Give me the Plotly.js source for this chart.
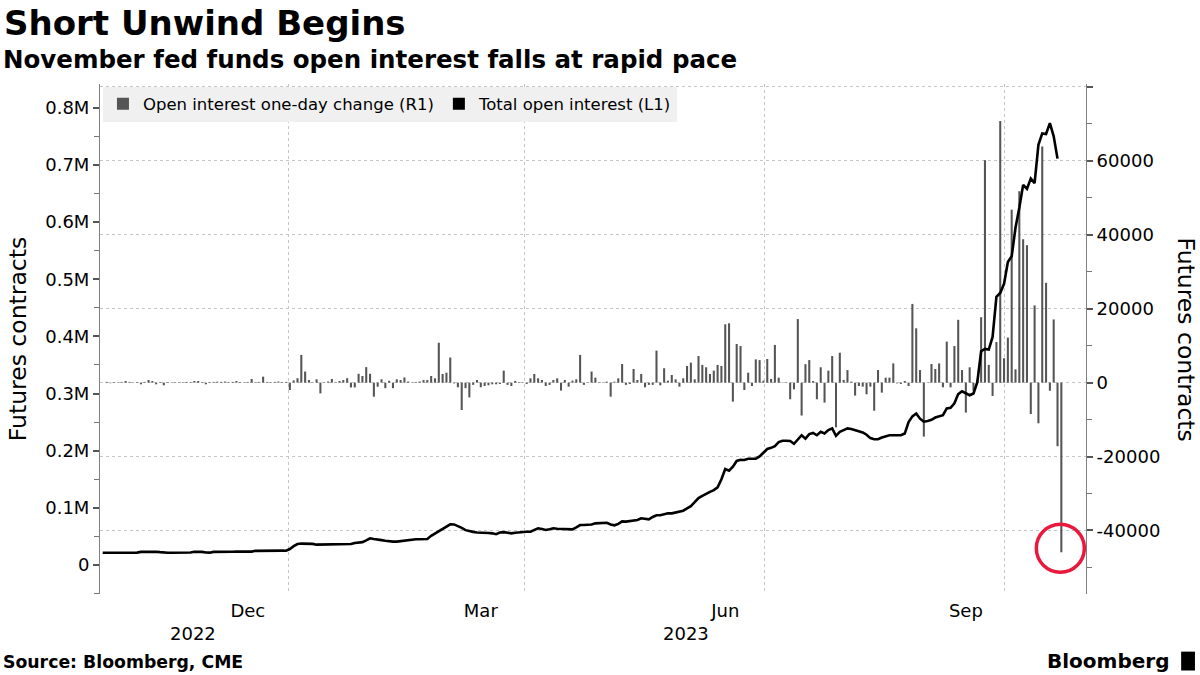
<!DOCTYPE html>
<html>
<head>
<meta charset="utf-8">
<script src="https://cdn.plot.ly/plotly-3.0.1.min.js"></script>
<style>
  html, body { margin: 0; padding: 0; background: #ffffff; }
  #chart { width: 1200px; height: 675px; }
</style>
</head>
<body>
<div id="chart"></div>
<script>
// ---------------- DATA ----------------
// Trading days (US futures calendar), Oct 21 2022 .. Oct 23 2023
const dates = [
  '2022-10-21','2022-10-24','2022-10-25','2022-10-26','2022-10-27','2022-10-28','2022-10-31',
  '2022-11-01','2022-11-02','2022-11-03','2022-11-04','2022-11-07','2022-11-08','2022-11-09','2022-11-10','2022-11-11','2022-11-14','2022-11-15','2022-11-16','2022-11-17','2022-11-18','2022-11-21','2022-11-22','2022-11-23','2022-11-25','2022-11-28','2022-11-29','2022-11-30',
  '2022-12-01','2022-12-02','2022-12-05','2022-12-06','2022-12-07','2022-12-08','2022-12-09','2022-12-12','2022-12-13','2022-12-14','2022-12-15','2022-12-16','2022-12-19','2022-12-20','2022-12-21','2022-12-22','2022-12-23','2022-12-27','2022-12-28','2022-12-29','2022-12-30',
  '2023-01-03','2023-01-04','2023-01-05','2023-01-06','2023-01-09','2023-01-10','2023-01-11','2023-01-12','2023-01-13','2023-01-17','2023-01-18','2023-01-19','2023-01-20','2023-01-23','2023-01-24','2023-01-25','2023-01-26','2023-01-27','2023-01-30','2023-01-31',
  '2023-02-01','2023-02-02','2023-02-03','2023-02-06','2023-02-07','2023-02-08','2023-02-09','2023-02-10','2023-02-13','2023-02-14','2023-02-15','2023-02-16','2023-02-17','2023-02-21','2023-02-22','2023-02-23','2023-02-24','2023-02-27','2023-02-28',
  '2023-03-01','2023-03-02','2023-03-03','2023-03-06','2023-03-07','2023-03-08','2023-03-09','2023-03-10','2023-03-13','2023-03-14','2023-03-15','2023-03-16','2023-03-17','2023-03-20','2023-03-21','2023-03-22','2023-03-23','2023-03-24','2023-03-27','2023-03-28','2023-03-29','2023-03-30','2023-03-31',
  '2023-04-03','2023-04-04','2023-04-05','2023-04-06','2023-04-10','2023-04-11','2023-04-12','2023-04-13','2023-04-14','2023-04-17','2023-04-18','2023-04-19','2023-04-20','2023-04-21','2023-04-24','2023-04-25','2023-04-26','2023-04-27','2023-04-28',
  '2023-05-01','2023-05-02','2023-05-03','2023-05-04','2023-05-05','2023-05-08','2023-05-09','2023-05-10','2023-05-11','2023-05-12','2023-05-15','2023-05-16','2023-05-17','2023-05-18','2023-05-19','2023-05-22','2023-05-23','2023-05-24','2023-05-25','2023-05-26','2023-05-30','2023-05-31',
  '2023-06-01','2023-06-02','2023-06-05','2023-06-06','2023-06-07','2023-06-08','2023-06-09','2023-06-12','2023-06-13','2023-06-14','2023-06-15','2023-06-16','2023-06-20','2023-06-21','2023-06-22','2023-06-23','2023-06-26','2023-06-27','2023-06-28','2023-06-29','2023-06-30',
  '2023-07-03','2023-07-05','2023-07-06','2023-07-07','2023-07-10','2023-07-11','2023-07-12','2023-07-13','2023-07-14','2023-07-17','2023-07-18','2023-07-19','2023-07-20','2023-07-21','2023-07-24','2023-07-25','2023-07-26','2023-07-27','2023-07-28','2023-07-31',
  '2023-08-01','2023-08-02','2023-08-03','2023-08-04','2023-08-07','2023-08-08','2023-08-09','2023-08-10','2023-08-11','2023-08-14','2023-08-15','2023-08-16','2023-08-17','2023-08-18','2023-08-21','2023-08-22','2023-08-23','2023-08-24','2023-08-25','2023-08-28','2023-08-29','2023-08-30','2023-08-31',
  '2023-09-01','2023-09-05','2023-09-06','2023-09-07','2023-09-08','2023-09-11','2023-09-12','2023-09-13','2023-09-14','2023-09-15','2023-09-18','2023-09-19','2023-09-20','2023-09-21','2023-09-22','2023-09-25','2023-09-26','2023-09-27','2023-09-28','2023-09-29',
  '2023-10-02','2023-10-03','2023-10-04','2023-10-05','2023-10-06','2023-10-09','2023-10-10','2023-10-11','2023-10-12','2023-10-13','2023-10-16','2023-10-17','2023-10-18','2023-10-19','2023-10-20','2023-10-23'
];

// Total open interest (left axis, contracts)
const totalOpenInterest = [
  21500,21500,21600,21500,21600,21700,21600,
  21500,21600,21700,23000,23300,23300,23400,23300,22500,21600,21500,21500,21600,21500,21600,21500,22000,23300,23300,23000,21800,
  21600,23000,23300,23300,23400,23300,23300,23400,23300,23300,23400,23500,24800,25000,25000,25000,25100,25000,25000,25100,25000,
  28000,33000,36700,37500,37500,37500,37000,35600,35600,35600,35600,35800,36700,36700,36700,36700,36800,38600,39000,40000,
  43000,46700,45500,44000,43500,42500,41500,41000,41000,42000,43000,44000,44500,45000,45000,45000,45500,51000,55000,
  59000,63000,68000,71200,71000,68500,65000,61000,59000,58000,57000,57000,56500,56000,55400,54000,57000,57500,56500,55400,56500,57500,58300,
  58300,58300,61000,64200,63000,61200,62500,64200,63500,63000,62500,62400,62400,66000,70000,70000,70000,71000,72900,
  73500,74000,74000,71000,69500,72000,76400,76000,77000,78700,78700,81700,81000,80000,84000,87000,87000,88500,90400,90400,92000,94500,
  95000,99000,103000,110000,117000,121000,125000,128000,131000,136000,150000,168000,165000,172000,182000,184000,183700,186000,186000,186000,190000,
  196000,203000,205000,208000,215000,217500,217500,217000,212000,220000,227000,221000,229000,231000,227000,233000,230000,236000,239000,226000,
  233000,236000,239000,238000,236000,235000,232000,228000,222000,220000,220000,223000,225000,227000,227000,227000,227000,230000,250000,260000,265000,256000,250700,
  252000,254000,258000,260000,262000,274000,275000,283000,299000,304000,300000,297000,300000,320000,374000,378000,377000,399000,469000,476000,
  492000,530000,540000,590000,625000,665000,658000,676000,668000,735000,755000,754000,773000,750000,711000
];

// Open interest one-day change (right axis, contracts)
const oneDayChange = [
  0,200,-150,150,100,200,450,
  200,-100,150,-450,200,720,450,-450,150,-720,150,100,150,100,150,200,150,450,450,150,-450,
  150,200,250,200,300,150,200,450,150,100,200,990,150,200,1620,200,150,200,300,150,200,
  -2000,600,1200,7500,3000,700,100,900,-2900,100,300,1000,100,450,700,1200,-1300,-1300,2400,1800,
  4200,2400,-3800,-1100,900,-1500,500,-1500,900,700,1400,300,100,200,300,700,700,1800,1170,
  10800,2350,2700,6800,-200,-1260,-7400,-1500,-4000,-600,720,-1260,-900,-720,-450,-450,-360,3250,-600,-900,450,180,100,
  -360,1170,2350,1170,720,-900,-600,720,1170,-2160,720,-1080,540,900,7500,-600,100,3000,1350,
  100,100,270,-3800,270,1170,5050,-600,-360,3700,720,2350,-1260,-600,-600,8660,-720,3900,540,2070,900,-1080,
  1170,4500,5400,900,7200,4800,4150,2350,3250,4800,4500,15800,16050,-5140,10460,9900,-2000,2700,-900,6300,6100,
  540,6400,1000,10200,1350,100,-100,-4500,-1800,17200,-8900,5000,6100,450,-4500,4150,-5400,3250,7200,-12100,
  8100,720,3400,270,-3500,-900,-1080,-3150,-1080,-7600,3400,-2700,1350,1350,5200,-200,-360,450,-900,21300,14700,3400,-14600,
  100,5050,3700,5200,-1260,11100,-1260,9900,17000,3400,-8100,4150,-2200,800,17700,60200,4800,-3600,11000,70800,
  6600,12200,46800,3600,51800,38800,37200,-8500,20900,-11000,63900,27000,-2200,17100,-17200,-45900
];

// Non-trading weekdays removed from the time axis
const holidays = ['2022-11-24','2022-12-26','2023-01-02','2023-01-16','2023-02-20','2023-04-07','2023-05-29','2023-06-19','2023-07-04','2023-09-04'];

// Axis ticks
const monthTickVals = ['2022-12-15 12:00','2023-03-16 12:00','2023-06-16 12:00','2023-09-18 12:00'];
const monthTickText = ['Dec','Mar','Jun','Sep'];
const quarterGridVals = ['2023-01-03 06:00','2023-03-31 23:00','2023-07-03 16:00','2023-10-02 15:00'];
const yearLabels = ['2022','2023'];
const leftTickVals = [0,100000,200000,300000,400000,500000,600000,700000,800000];
const leftTickText = ['0','0.1M','0.2M','0.3M','0.4M','0.5M','0.6M','0.7M','0.8M'];
const rightTickVals = [-40000,-20000,0,20000,40000,60000,80000];
const rightTickText = ['-40000','-20000','0','20000','40000','60000',''];

// ---------------- CHART ----------------
const FONT = 'DejaVu Sans, Verdana, sans-serif';
const xs = dates.map(d => d + ' 12:00');
const lastIdx = oneDayChange.length - 1;

const barTrace = {
  type: 'bar',
  name: 'Open interest one-day change (R1)',
  x: xs,
  y: oneDayChange,
  xaxis: 'x',
  yaxis: 'y',
  marker: { color: '#555555', line: { width: 0 } },
  showlegend: true,
  hoverinfo: 'skip'
};

const lineTrace = {
  type: 'scatter',
  mode: 'lines',
  name: 'Total open interest (L1)',
  x: xs.slice(0, totalOpenInterest.length),
  y: totalOpenInterest,
  xaxis: 'x',
  yaxis: 'y2',
  line: { color: '#000000', width: 2.6 },
  showlegend: false,
  hoverinfo: 'skip'
};

// legend entry with a square swatch for the line series
const lineLegend = {
  type: 'bar',
  name: 'Total open interest (L1)',
  x: [null],
  y: [null],
  xaxis: 'x',
  yaxis: 'y2',
  marker: { color: '#000000' },
  showlegend: true,
  hoverinfo: 'skip'
};

const gridStyle = { gridcolor: '#c6c6c6', griddash: 'dot', gridwidth: 1 };

const layout = {
  width: 1200,
  height: 675,
  margin: { l: 100, r: 114, t: 84, b: 81, pad: 0 },
  paper_bgcolor: '#ffffff',
  plot_bgcolor: '#ffffff',
  font: { family: FONT, color: '#000000', size: 18 },
  barmode: 'overlay',
  bargap: 0.46,
  title: {
    text: 'Short Unwind Begins',
    font: { family: FONT, size: 34, weight: 700, color: '#000000' },
    xref: 'container', x: 4 / 1200, xanchor: 'left',
    yref: 'container', y: 1 - 23 / 675, yanchor: 'middle'
  },
  showlegend: true,
  legend: {
    orientation: 'h',
    x: 0.003, xanchor: 'left',
    y: 0.995, yanchor: 'top',
    bgcolor: '#f0f0f0',
    borderwidth: 0,
    font: { family: FONT, size: 16.5, color: '#000000' },
    itemwidth: 30,
    traceorder: 'normal'
  },
  xaxis: {
    type: 'date',
    range: ['2022-10-20 19:00', '2023-10-31 23:00'],
    rangebreaks: [ { bounds: ['sat', 'mon'] }, { values: holidays } ],
    tickmode: 'array',
    tickvals: monthTickVals,
    ticktext: monthTickText,
    ticks: '',
    showgrid: false,
    showline: false,
    zeroline: false,
    tickfont: { family: FONT, size: 18, color: '#000000' },
    ticklabelstandoff: 4,
    minor: Object.assign({ tickmode: 'array', tickvals: quarterGridVals, ticks: '', showgrid: true }, gridStyle)
  },
  yaxis: {
    side: 'right',
    anchor: 'x',
    range: [-57185, 80800],
    tickmode: 'array',
    tickvals: rightTickVals,
    ticktext: rightTickText,
    showgrid: true,
    gridcolor: gridStyle.gridcolor, griddash: gridStyle.griddash, gridwidth: 1,
    zeroline: false,
    showline: true,
    linecolor: '#808080',
    linewidth: 1,
    ticks: 'outside',
    ticklen: 6,
    tickwidth: 2,
    tickcolor: '#555555',
    tickfont: { family: FONT, size: 18, color: '#000000' },
    minor: { tickmode: 'linear', tick0: 0, dtick: 10000, ticks: 'outside', ticklen: 5, tickwidth: 1, tickcolor: '#777777', showgrid: false }
  },
  yaxis2: {
    overlaying: 'y',
    side: 'left',
    anchor: 'x',
    range: [-50700, 841500],
    tickmode: 'array',
    tickvals: leftTickVals,
    ticktext: leftTickText,
    showgrid: false,
    zeroline: false,
    showline: true,
    linecolor: '#808080',
    linewidth: 1,
    ticks: 'outside',
    ticklen: 6,
    tickwidth: 2,
    tickcolor: '#555555',
    tickfont: { family: FONT, size: 18, color: '#000000' },
    minor: { tickmode: 'linear', tick0: 0, dtick: 50000, ticks: 'outside', ticklen: 5, tickwidth: 1, tickcolor: '#777777', showgrid: false },
    title: { text: 'Futures contracts', font: { family: FONT, size: 23.5, color: '#000000' }, standoff: 12 }
  },
  annotations: [
    {
      text: 'November fed funds open interest falls at rapid pace',
      xref: 'paper', yref: 'paper', x: -0.1005, y: 1.0486,
      xanchor: 'left', yanchor: 'middle', showarrow: false,
      font: { family: FONT, size: 24.5, weight: 700, color: '#000000' }
    },
    {
      text: 'Futures contracts',
      xref: 'paper', yref: 'paper', x: 1.101, y: 0.5,
      xanchor: 'center', yanchor: 'middle', showarrow: false, textangle: 90,
      font: { family: FONT, size: 23.5, color: '#000000' }
    },
    {
      text: yearLabels[0],
      xref: 'paper', yref: 'paper', x: 0.0943, y: -0.0784,
      xanchor: 'center', yanchor: 'middle', showarrow: false,
      font: { family: FONT, size: 18, color: '#000000' }
    },
    {
      text: yearLabels[1],
      xref: 'paper', yref: 'paper', x: 0.5947, y: -0.0784,
      xanchor: 'center', yanchor: 'middle', showarrow: false,
      font: { family: FONT, size: 18, color: '#000000' }
    },
    {
      text: 'Source: Bloomberg, CME',
      xref: 'paper', yref: 'paper', x: -0.1005, y: -0.1343,
      xanchor: 'left', yanchor: 'middle', showarrow: false,
      font: { family: FONT, size: 17.3, weight: 700, color: '#000000' }
    },
    {
      text: 'Bloomberg',
      xref: 'paper', yref: 'paper', x: 1.0865, y: -0.1314,
      xanchor: 'right', yanchor: 'middle', showarrow: false,
      font: { family: FONT, size: 20, weight: 700, color: '#000000' }
    }
  ],
  shapes: [
    {
      // red highlight ring around the final one-day drop
      type: 'circle',
      xref: 'x', yref: 'y',
      xsizemode: 'pixel', ysizemode: 'pixel',
      xanchor: xs[lastIdx], yanchor: oneDayChange[lastIdx],
      x0: -25, x1: 23, y0: -20, y1: 28,
      line: { color: '#e8193c', width: 3.5 },
      fillcolor: 'rgba(0,0,0,0)'
    },
    {
      // small logo tile next to the wordmark
      type: 'rect',
      xref: 'paper', yref: 'paper',
      x0: 1.0965, x1: 1.1105, y0: -0.150, y1: -0.113,
      fillcolor: '#000000', line: { width: 0 }
    }
  ]
};

Plotly.newPlot('chart', [barTrace, lineLegend, lineTrace], layout, { displayModeBar: false, staticPlot: true });
</script>
</body>
</html>
